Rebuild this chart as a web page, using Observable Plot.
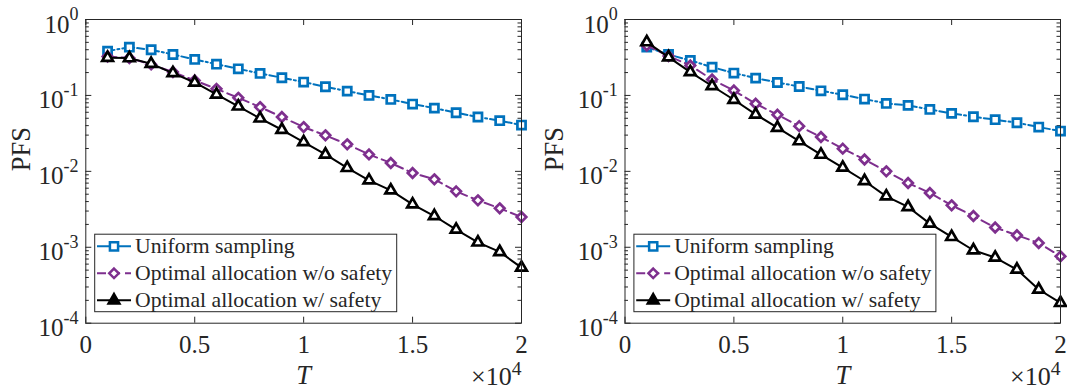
<!DOCTYPE html>
<html><head><meta charset="utf-8">
<script src="https://cdn.jsdelivr.net/npm/d3@7"></script>
<script src="https://cdn.jsdelivr.net/npm/@observablehq/plot@0.6"></script>
<style>
body{margin:0;background:#fff;}
#wrap{position:relative;width:1067px;height:390px;overflow:hidden;}
#wrap svg{position:absolute;top:0;}
</style></head><body><div id="wrap"></div>
<script>
const T = [1000,2000,3000,4000,5000,6000,7000,8000,9000,10000,11000,12000,13000,14000,15000,16000,17000,18000,19000,20000];
const uniformLeft = [0.383,0.432,0.40,0.346,0.298,0.258,0.224,0.195,0.171,0.150,0.130,0.114,0.100,0.0886,0.0769,0.068,0.0592,0.0519,0.0465,0.0407];
const noSafetyLeft = [0.326,0.31,0.256,0.203,0.157,0.122,0.093,0.0702,0.0519,0.0383,0.0298,0.0227,0.0167,0.0129,0.0095,0.00785,0.00545,0.00415,0.00326,0.0025];
const safetyLeft = [0.313,0.31,0.261,0.197,0.148,0.103,0.0717,0.0498,0.0353,0.0243,0.0167,0.0111,0.00762,0.00562,0.00368,0.00258,0.00171,0.00116,0.000868,0.00054];
const uniformRight = [0.432,0.346,0.289,0.236,0.197,0.169,0.148,0.131,0.115,0.102,0.0895,0.0785,0.0739,0.0654,0.058,0.0524,0.0479,0.0437,0.0383,0.0339];
const noSafetyRight = [0.455,0.33,0.248,0.162,0.116,0.0778,0.0557,0.0394,0.0283,0.0199,0.0143,0.01,0.00702,0.00519,0.00357,0.00258,0.00182,0.00144,0.00114,0.00076];
const safetyRight = [0.503,0.319,0.203,0.133,0.0877,0.0562,0.0376,0.025,0.0166,0.0112,0.00746,0.00469,0.0034,0.00205,0.00137,0.000914,0.000732,0.000509,0.000278,0.000185];
const seriesNames = ["Uniform sampling","Optimal allocation w/o safety","Optimal allocation w/ safety"];
const xTicks = [0,5000,10000,15000,20000];
const yTicks = [1e-4,1e-3,1e-2,1e-1,1];
const yMinor = [];
for (let e = -4; e <= -1; e++) for (let m = 2; m <= 9; m++) yMinor.push(m * Math.pow(10, e));

const AX = "#262626";
const FONT = "'Liberation Serif', 'Times New Roman', serif";
const styles = [
  {stroke:"#0072BD", dash:"7,3,2,3", symbol:"square", r:4.6, fill:"#fff"},
  {stroke:"#7E2F8E", dash:"9,5", symbol:"diamond2", r:4.3, fill:"#fff"},
  {stroke:"#000000", dash:null, symbol:"triangle", r:4.0, fill:"#fff"}
];
const d3sym = {square: d3.symbolSquare, diamond2: d3.symbolDiamond2, triangle: d3.symbolTriangle};

function panel(series, left, width, mL, mR) {
  const H = 390, mT = 19, mB = 67.3;
  const W = width - mL - mR, PH = H - mT - mB;
  const marks = [];
  marks.push(Plot.tickY(yTicks, {y: d => d, stroke: AX, strokeWidth: 1, insetRight: W - 6}));
  marks.push(Plot.tickY(yTicks, {y: d => d, stroke: AX, strokeWidth: 1, insetLeft: W - 6}));
  marks.push(Plot.tickY(yMinor, {y: d => d, stroke: AX, strokeWidth: 1, insetRight: W - 3.5}));
  marks.push(Plot.tickY(yMinor, {y: d => d, stroke: AX, strokeWidth: 1, insetLeft: W - 3.5}));
  marks.push(Plot.tickX(xTicks, {x: d => d, stroke: AX, strokeWidth: 1, insetTop: PH - 6}));
  marks.push(Plot.tickX(xTicks, {x: d => d, stroke: AX, strokeWidth: 1, insetBottom: PH - 6}));
  series.forEach((vals, i) => {
    const rows = T.map((t, j) => ({T: t, PFS: vals[j]}));
    const s = styles[i];
    marks.push(Plot.line(rows, {x: "T", y: "PFS", stroke: s.stroke, strokeWidth: 2, strokeDasharray: s.dash}));
    marks.push(Plot.dot(rows, {x: "T", y: "PFS", symbol: () => s.symbol, r: s.r, stroke: s.stroke, strokeWidth: 2.7, fill: s.fill}));
  });
  marks.push(Plot.frame({stroke: AX, strokeWidth: 1}));
  marks.push(Plot.axisX({ticks: xTicks, tickSize: 0, tickPadding: 12.5, label: null, tickFormat: d => String(d / 1e4), fontSize: 25, fill: AX}));
  marks.push(Plot.axisY({ticks: yTicks, tickSize: 0, tickPadding: 7.3, label: null, tickFormat: d => String(Math.round(Math.log10(d))), fontSize: 25, fill: AX}));
  marks.push(Plot.text(["PFS"], {text: d => d, frameAnchor: "left", rotate: -90, lineAnchor: "bottom", dx: 29.3 - mL, fontSize: 26.5, fill: AX}));
  marks.push(Plot.text(["T"], {text: d => d, frameAnchor: "bottom", lineAnchor: "bottom", dy: 60.3, fontSize: 26.5, fontStyle: "italic", fill: AX}));
  marks.push(Plot.text(["×10"], {text: d => d, frameAnchor: "bottom-right", textAnchor: "end", lineAnchor: "bottom", dy: 61.5, dx: 0, fontSize: 26, fill: AX}));

  const svg = Plot.plot({
    width, height: H, marginLeft: mL, marginRight: mR, marginTop: mT, marginBottom: mB,
    x: {domain: [0, 20000], axis: null, label: null},
    y: {type: "log", domain: [1e-4, 1], axis: null, label: null},
    style: {fontFamily: FONT, fontSize: "24px", color: AX, background: "#fff", overflow: "visible"},
    marks
  });
  svg.style.left = left + "px";

  svg.querySelectorAll('g[aria-label="y-axis tick label"] text').forEach(t => {
    const e = t.textContent;
    t.textContent = "10";
    t.setAttribute("y", "13");
    const ts = document.createElementNS("http://www.w3.org/2000/svg", "tspan");
    ts.setAttribute("font-size", "18");
    ts.setAttribute("dy", "-12.5");
    ts.textContent = e;
    t.appendChild(ts);
  });
  svg.querySelectorAll('text').forEach(t => {
    if (t.textContent !== "×10") return;
    const ts = document.createElementNS("http://www.w3.org/2000/svg", "tspan");
    ts.setAttribute("font-size", "19.5");
    ts.setAttribute("dy", "-9.5");
    ts.textContent = "4";
    t.appendChild(ts);
  });

  const g = d3.select(svg).append("g").attr("font-family", FONT).attr("font-size", 21.7)
    .attr("fill", AX).attr("text-anchor", "start");
  const bx = mL + 9.4, by = 234.2;
  g.append("rect").attr("x", bx).attr("y", by).attr("width", 302).attr("height", 77.5)
    .attr("fill", "#fff").attr("stroke", AX).attr("stroke-width", 1);
  seriesNames.forEach((name, i) => {
    const s = styles[i];
    const cy = 246.3 + i * 27;
    g.append("line").attr("x1", mL + 11.7).attr("x2", mL + 45.7).attr("y1", cy).attr("y2", cy)
      .attr("stroke", s.stroke).attr("stroke-width", 2).attr("stroke-dasharray", i === 1 ? "9,5" : null);
    g.append("path").attr("d", d3.symbol(d3sym[s.symbol], Math.PI * s.r * s.r)())
      .attr("transform", `translate(${mL + 28.7},${cy})`)
      .attr("fill", i === 2 ? "#000" : s.fill).attr("stroke", s.stroke).attr("stroke-width", 2.5);
    g.append("text").attr("x", mL + 49.7).attr("y", cy).attr("dy", "0.32em").text(name);
  });
  document.getElementById("wrap").appendChild(svg);
}

panel([uniformLeft, noSafetyLeft, safetyLeft], 0, 533, 85.3, 12);
panel([uniformRight, noSafetyRight, safetyRight], 533, 534, 91.5, 7);
</script></body></html>
